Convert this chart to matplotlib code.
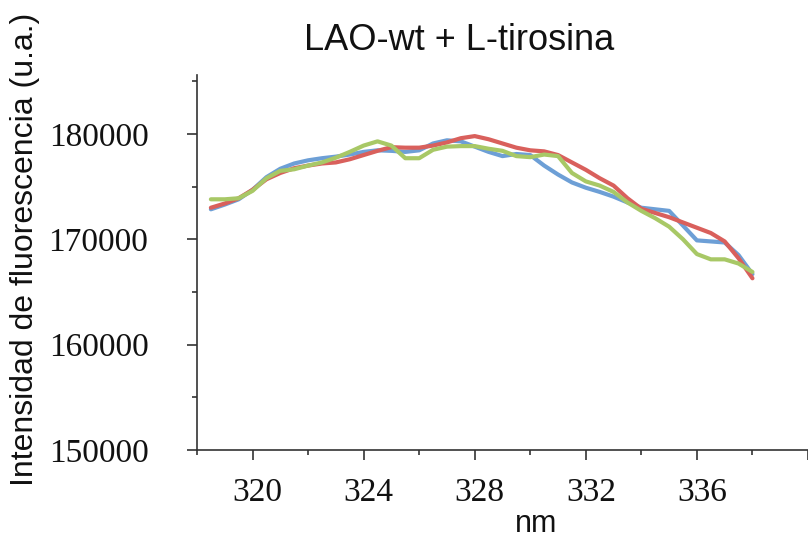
import matplotlib
matplotlib.use("Agg")
import matplotlib.pyplot as plt
import matplotlib.transforms as mtransforms
import numpy as np

wavelength = [318.5, 319.0, 319.5, 320.0, 320.5, 321.0, 321.5, 322.0, 322.5, 323.0,
              323.5, 324.0, 324.5, 325.0, 325.5, 326.0, 326.5, 327.0, 327.5, 328.0,
              328.5, 329.0, 329.5, 330.0, 330.5, 331.0, 331.5, 332.0, 332.5, 333.0,
              333.5, 334.0, 334.5, 335.0, 335.5, 336.0, 336.5, 337.0, 337.5, 338.0]

blue = [172850, 173300, 173800, 174700, 175900, 176700, 177200, 177500, 177700, 177850,
        178050, 178300, 178450, 178400, 178300, 178450, 179100, 179400, 179300, 178800,
        178300, 177900, 178100, 178000, 177000, 176150, 175400, 174900, 174500, 174050,
        173500, 173000, 172850, 172700, 171300, 169900, 169800, 169700, 168500, 166700]

red = [173000, 173400, 173900, 174700, 175700, 176300, 176750, 177000, 177200, 177300,
       177600, 178000, 178400, 178750, 178700, 178700, 178900, 179200, 179600, 179800,
       179500, 179100, 178700, 178450, 178350, 178000, 177300, 176600, 175800, 175100,
       173900, 172900, 172500, 172100, 171600, 171100, 170600, 169800, 168200, 166300]

green = [173800, 173800, 173900, 174600, 175800, 176500, 176650, 177000, 177300, 177750,
         178300, 178900, 179300, 178900, 177700, 177700, 178500, 178800, 178850, 178850,
         178600, 178400, 177900, 177800, 178050, 177900, 176300, 175500, 175100, 174500,
         173500, 172700, 172000, 171200, 170000, 168600, 168100, 168100, 167700, 166900]

x_ticks = [320, 324, 328, 332, 336]
y_ticks = [150000, 160000, 170000, 180000]

title = "LAO-wt + L-tirosina"
xlabel = "nm"
ylabel = "Intensidad de fluorescencia (u.a.)"

W, H = 808, 542
fig = plt.figure(figsize=(W / 100, H / 100), dpi=100)
ax = fig.add_axes([197 / W, 1 - 450 / H, (808 - 197) / W, (450 - 75) / H])

for series, col in [(blue, "#6d9fd6"), (red, "#d9605c"), (green, "#a8c866")]:
    ax.plot(wavelength, series, color=col, lw=3.0, solid_joinstyle="round",
            solid_capstyle="round", clip_on=False)

ax.set_xlim(318, 340)
ax.set_ylim(150000, 185600)

ax.set_xticks(x_ticks + [340])
ax.set_xticklabels([str(t) for t in x_ticks] + [""])
ax.set_xticks(np.arange(318, 341, 2), minor=True)
ax.set_yticks(y_ticks)
ax.set_yticklabels([str(t) for t in y_ticks])
ax.set_yticks(np.arange(150000, 186000, 5000), minor=True)

for s in ["top", "right"]:
    ax.spines[s].set_visible(False)
for s in ["left", "bottom"]:
    ax.spines[s].set_color("#333333")
    ax.spines[s].set_linewidth(1.2)

ax.tick_params(axis="both", which="major", direction="out", length=7, width=1.2,
               color="#333333")
ax.tick_params(axis="both", which="minor", direction="out", length=3.5, width=1.2,
               color="#333333")
ax.tick_params(axis="y", which="major", pad=28)
ax.tick_params(axis="x", which="major", pad=13)

for lab in ax.get_xticklabels():
    lab.set_fontfamily("Liberation Serif")
    lab.set_fontsize(24)
    lab.set_color("#111111")
    lab.set_transform(lab.get_transform() +
                      mtransforms.ScaledTranslation(5 / 100, 0, fig.dpi_scale_trans))
for lab in ax.get_yticklabels():
    lab.set_fontfamily("Liberation Serif")
    lab.set_fontsize(24)
    lab.set_color("#111111")

fig.text(459 / W, 1 - 50 / H, title, ha="center", va="baseline",
         fontfamily="Liberation Sans", fontsize=26, color="#111111")
fig.text(536 / W, 1 - 532 / H, xlabel, ha="center", va="baseline",
         fontfamily="Liberation Sans", fontsize=22, color="#111111")
fig.text(25 / W, 1 - 249 / H, ylabel, ha="center", va="center", rotation=90,
         fontfamily="Liberation Sans", fontsize=23, color="#111111")

fig.savefig("out.png", dpi=100)
